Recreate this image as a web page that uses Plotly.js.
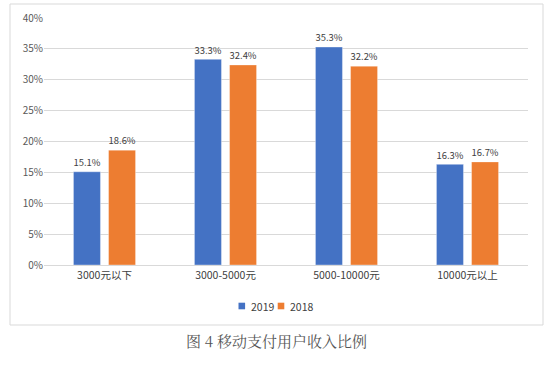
<!DOCTYPE html>
<html><head><meta charset="utf-8">
<script src="https://cdn.plot.ly/plotly-3.0.1.min.js"></script>
<style>html,body{margin:0;padding:0;background:#fff}#c{width:550px;height:375px}</style>
</head><body><div id="c"></div>
<script>
const categories = ["3000元以下", "3000-5000元", "5000-10000元", "10000元以上"];
const v2019 = [15.1, 33.3, 35.3, 16.3];
const v2018 = [18.6, 32.4, 32.2, 16.7];
const yTicks = [0, 5, 10, 15, 20, 25, 30, 35, 40];
const seriesNames = ["2019", "2018"];
const seriesColors = ["#4472C4", "#ED7D31"];
const caption = "图 4 移动支付用户收入比例";

const font = "Microsoft YaHei, 'Noto Sans CJK SC', sans-serif";
const mk = (name, vals, color) => ({
  type: 'bar', name: name, x: categories, y: vals,
  text: vals.map(v => v.toFixed(1) + '%'), textposition: 'outside',
  textfont: {size: 10, color: '#404040', family: font},
  cliponaxis: false,
  marker: {color: color, line: {color: 'rgba(255,255,255,0.35)', width: 1}},
  hoverinfo: 'none'
});
const data = [mk(seriesNames[0], v2019, seriesColors[0]), mk(seriesNames[1], v2018, seriesColors[1])];

// plot area geometry for converting legend/frame pixel spots into paper coords
const L = 44, R = 22, T = 18, B = 110, W = 550, H = 375;
const pw = W - L - R, ph = H - T - B;
const px = x => (x - L) / pw;
const py = y => (H - B - y) / ph;

const shapes = [{type: 'rect', xref: 'paper', yref: 'paper', x0: px(10), x1: px(543),
                 y0: py(325), y1: py(4), line: {color: '#d9d9d9', width: 1}, layer: 'below'}];
const annotations = [{text: caption, xref: 'paper', yref: 'paper', x: px(276), y: py(353),
                 showarrow: false, font: {size: 15, color: '#555', family: "'Noto Serif CJK SC', 'Noto Sans CJK SC', serif"}}];
const legX = [238.5, 277.7];
seriesNames.forEach((n, i) => {
  shapes.push({type: 'rect', xref: 'paper', yref: 'paper', x0: px(legX[i]), x1: px(legX[i] + 6.6),
               y0: py(309.3), y1: py(302.7), fillcolor: seriesColors[i], line: {width: 0}});
  annotations.push({text: n, xref: 'paper', yref: 'paper', x: px(legX[i] + 10.5), y: py(306),
               xanchor: 'left', yanchor: 'middle', showarrow: false,
               font: {size: 10.5, color: '#404040', family: font}});
});

const layout = {
  width: W, height: H,
  margin: {l: L, r: R, t: T, b: B},
  paper_bgcolor: '#fff', plot_bgcolor: '#fff',
  font: {family: font, size: 10, color: '#595959'},
  barmode: 'group', bargap: 0.42, bargroupgap: 0.23,
  xaxis: {showgrid: false, showline: true, linecolor: '#d9d9d9', linewidth: 1,
          ticks: '', tickfont: {size: 10.5, color: '#404040'}},
  yaxis: {range: [0, 40], tickvals: yTicks, ticktext: yTicks.map(t => t + '%'),
          showgrid: true, gridcolor: '#d9d9d9', gridwidth: 1, zeroline: false,
          showline: false, ticks: '', tickfont: {size: 10, color: '#595959'}},
  showlegend: false,
  shapes: shapes,
  annotations: annotations
};
Plotly.newPlot('c', data, layout, {displayModeBar: false, staticPlot: true});
</script></body></html>
